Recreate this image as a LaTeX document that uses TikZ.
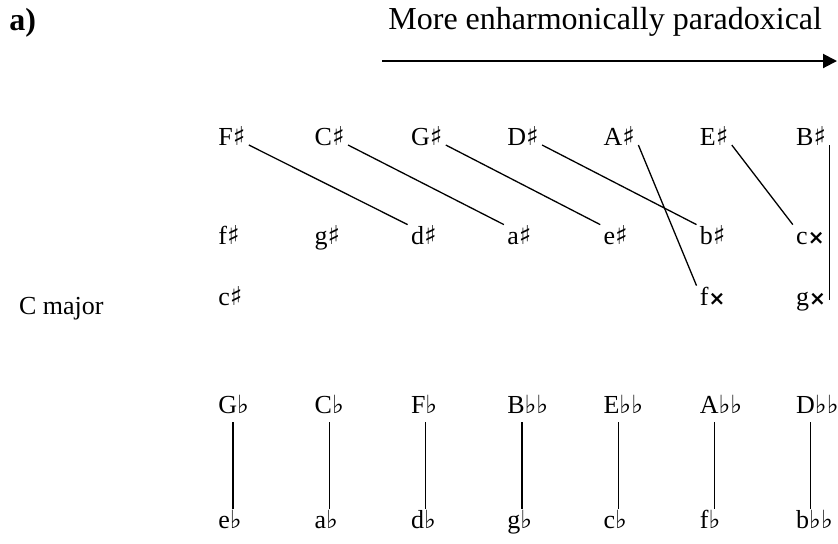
\documentclass[tikz,border=0pt]{standalone}
\usepackage{fontspec}
\usetikzlibrary{arrows.meta,positioning}
\setmainfont{Liberation Serif}
\newfontfamily\musfont{DejaVu Sans}
\newcommand{\nsharp}{{\musfont\fontsize{13pt}{13pt}\selectfont ♯}}
\newcommand{\nflat}{{\musfont\fontsize{12.5pt}{12.5pt}\selectfont ♭}}
\newcommand{\ndsharp}{{\musfont\bfseries\fontsize{10pt}{10pt}\selectfont ×}}

\begin{document}
\begin{tikzpicture}[x=0.5pt,y=-0.5pt,note/.style={anchor=base west,inner sep=1.5pt,text height=8pt,text depth=3pt,font=\fontsize{13pt}{16pt}\selectfont},link/.style={line width=0.65pt},arr/.style={-{Triangle[length=7pt,width=7pt]},line width=1pt}]
\useasboundingbox (0,0) rectangle (838,543);
% heading and arrow
\node[anchor=base west,inner sep=0pt,font=\bfseries\fontsize{16pt}{19pt}\selectfont] (part) at (9,30) {a)};
\node[anchor=base west,inner sep=0pt,font=\fontsize{16pt}{19pt}\selectfont] (head) at (388,29) {More enharmonically paradoxical};
\coordinate (arrS) at (382,61);\coordinate (arrE) at (837,61);
\draw[arr](arrS)--(arrE);
\node[anchor=base east,inner sep=0pt,font=\fontsize{13pt}{16pt}\selectfont] (key) at (104,314) {C major};
% sharp side
\foreach \n/\t [count=\i from 0] in {Fs/F\nsharp,Cs/C\nsharp,Gs/G\nsharp,Ds/D\nsharp,As/A\nsharp,Es/E\nsharp,Bs/B\nsharp}
  \node[note] (\n) at (215+96.3*\i,145) {\t};
\foreach \n/\t [count=\i from 0] in {fs/f\nsharp,gs/g\nsharp,ds/d\nsharp,as/a\nsharp,es/e\nsharp,bs/b\nsharp,cx/c\ndsharp}
  \node[note] (\n) at (215+96.3*\i,244) {\t};
\node[note] (cs) at (215,305) {c\nsharp};
\node[note] (fx) at (696.5,305) {f\ndsharp};
\node[note] (gx) at (792.8,305) {g\ndsharp};
\draw[link](Fs.base east)--(ds.north west);\draw[link](Cs.base east)--(as.north west);
\draw[link](Gs.base east)--(es.north west);\draw[link](Ds.base east)--(bs.north west);
\draw[link](As.base east)--(fx.north west);\draw[link](Es.base east)--(cx.north west);
\draw[link](Bs.base east)--(Bs.base east |- gx.mid);
% flat side
\foreach \n/\t [count=\i from 0] in {Gb/G\nflat,Cb/C\nflat,Fb/F\nflat,Bbb/B\nflat\nflat,Ebb/E\nflat\nflat,Abb/A\nflat\nflat,Dbb/D\nflat\nflat}
  \node[note] (\n) at (215+96.3*\i,413) {\t};
\foreach \n/\t [count=\i from 0] in {eb/e\nflat,ab/a\nflat,db/d\nflat,gb/g\nflat,cb/c\nflat,fb/f\nflat,bbb/b\nflat\nflat}
  \node[note] (\n) at (215+96.3*\i,528) {\t};
\foreach \u/\l in {Gb/eb,Cb/ab,Fb/db,Bbb/gb,Ebb/cb,Abb/fb,Dbb/bbb}
  \draw[link]([xshift=9pt]\u.south west)--([xshift=9pt]\u.south west |- \l.north);
\end{tikzpicture}
\end{document}
